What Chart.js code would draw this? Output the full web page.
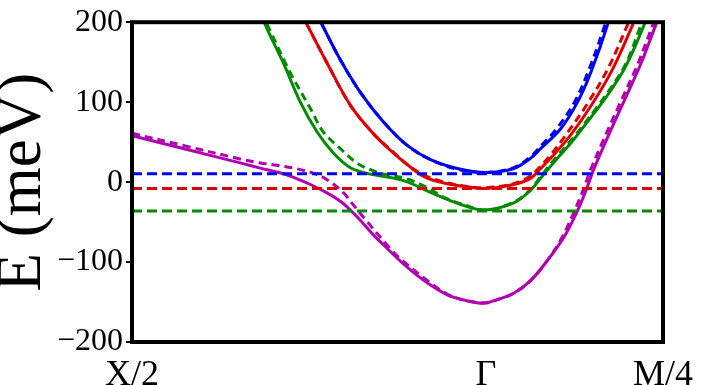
<!DOCTYPE html>
<html lang="en">
<head>
<meta charset="UTF-8">
<title>E (meV)</title>
<script src="https://cdn.jsdelivr.net/npm/chart.js"></script>
<style>
    body {
        margin: 0;
        padding: 0;
        background: #fff;
    }
    .wrap {
        width: 706px;
        height: 385px;
        position: relative;
    }
</style>
</head>
<body>
<div class="wrap">
    <canvas id="bands"></canvas>
</div>
<script>
    // k path: X/2 at -2, Gamma at 0, M/4 at 1
    var xTickValues = [-2, 0, 1];
    var xTickLabels = ['X/2', 'Γ', 'M/4'];
    var yTickValues = [-200, -100, 0, 100, 200];

    var blueSolidK = [-0.96, -0.926, -0.823, -0.709, -0.578, -0.445, -0.313, -0.162, 0, 0.157, 0.253, 0.309, 0.423, 0.517, 0.592, 0.687, 0.71];
    var blueSolidE = [213, 197, 153, 112, 75, 46, 28, 17, 12, 17, 30, 42, 67, 100, 137, 197, 220];
    var blueDashK = [-0.96, -0.926, -0.823, -0.709, -0.578, -0.445, -0.313, -0.162, 0, 0.157, 0.253, 0.309, 0.40, 0.50, 0.575, 0.672, 0.695];
    var blueDashE = [213, 197, 153, 112, 75, 46, 28, 16, 12, 18, 32, 45, 67, 100, 137, 197, 220];

    var redSolidK = [-1.05, -1.011, -0.898, -0.766, -0.634, -0.521, -0.445, -0.40, -0.332, -0.219, -0.087, 0, 0.157, 0.253, 0.309, 0.366, 0.479, 0.598, 0.717, 0.829, 0.853];
    var redSolidE = [214, 197, 149, 96, 60, 36, 22, 14, 5, -2, -6.5, -8, -3, 5, 17, 30, 59, 97, 142, 197, 212];
    var redDashK = [-1.05, -1.011, -0.898, -0.766, -0.634, -0.521, -0.435, -0.332, -0.219, -0.087, 0, 0.157, 0.253, 0.309, 0.366, 0.451, 0.570, 0.689, 0.80, 0.825];
    var redDashE = [214, 197, 149, 96, 60, 37, 20, 7, -1, -6, -7, -2, 8, 20, 34, 59, 97, 142, 197, 212];

    var greenSolidK = [-1.27, -1.247, -1.145, -1.049, -0.955, -0.861, -0.766, -0.653, -0.521, -0.44, -0.332, -0.238, -0.143, -0.012, 0.157, 0.253, 0.309, 0.385, 0.498, 0.621, 0.70, 0.790, 0.894, 0.915];
    var greenSolidE = [215, 197, 149, 100, 63, 36, 18, 10, 5, 0, -11, -20, -28, -35, -26, -10, 5, 25, 54, 89, 113, 145, 197, 212];
    var greenDashK = [-1.27, -1.236, -1.106, -0.992, -0.920, -0.823, -0.73, -0.653, -0.558, -0.445, -0.332, -0.238, -0.143, 0, 0.157, 0.253, 0.309, 0.385, 0.498, 0.621, 0.70, 0.79, 0.876, 0.90];
    var greenDashE = [213, 197, 137, 92, 63, 42, 24, 15.5, 9, 4, -7, -19, -27, -35, -25, -9, 7, 28, 57, 92, 116, 148, 197, 212];

    var magSolidK = [-2, -1.694, -1.389, -1.275, -1.145, -1.087, -0.992, -0.898, -0.823, -0.766, -0.709, -0.636, -0.558, -0.483, -0.410, -0.332, -0.219, -0.115, -0.013, 0.064, 0.157, 0.253, 0.347, 0.44, 0.517, 0.564, 0.611, 0.687, 0.781, 0.875, 0.960, 0.99];
    var magSolidE = [58, 41, 24, 17.5, 10.5, 6, -3, -13.5, -24, -35, -48, -66, -83, -99, -113, -126, -141, -148, -151.5, -147, -139, -123, -98, -69, -36, -11, 17, 56, 102, 148, 197, 213];
    var magDashK = [-2, -1.694, -1.389, -1.275, -1.181, -1.087, -0.973, -0.898, -0.804, -0.766, -0.692, -0.540, -0.483, -0.332, -0.219, -0.115, 0, 0.064, 0.157, 0.253, 0.347, 0.43, 0.50, 0.547, 0.594, 0.670, 0.764, 0.858, 0.943, 0.972];
    var magDashE = [61, 45, 29, 24, 21, 17.5, 11, 3, -13.5, -24, -44, -83.5, -96, -123, -140, -148, -151, -147, -139, -123, -98, -69, -36, -11, 17, 56, 102, 148, 197, 213];

    // chemical potentials (flat dashed lines)
    var levelK = [-2, 1];
    var blueLevel = [10.5, 10.5];
    var redLevel = [-8, -8];
    var greenLevel = [-36, -36];

    var BLUE = '#0000f0', RED = '#dd0000', GREEN = '#008a00', MAGENTA = '#b000b0';

    function pts(k, e) {
        return k.map(function (x, i) { return {x: x, y: e[i]}; });
    }

    function band(k, e, color, dashed) {
        return {
            data: pts(k, e),
            borderColor: color,
            borderWidth: 3,
            borderDash: dashed ? [8, 5] : [],
            pointRadius: 0,
            tension: 0.35,
            clip: 0
        };
    }

    function level(e, color) {
        return {
            data: pts(levelK, e),
            borderColor: color,
            borderWidth: 3,
            borderDash: [10, 5],
            pointRadius: 0,
            clip: 0
        };
    }

    var frame = {
        id: 'frame',
        afterDatasetsDraw: function (chart) {
            var ctx = chart.ctx, a = chart.chartArea;
            ctx.save();
            ctx.lineWidth = 4;
            ctx.strokeStyle = '#000';
            ctx.strokeRect(a.left, a.top, a.right - a.left, a.bottom - a.top);
            ctx.restore();
        }
    };

    var serif = 'Liberation Serif';

    new Chart(document.getElementById('bands').getContext('2d'), {
        type: 'line',
        data: {
            datasets: [
                level(blueLevel, BLUE),
                level(redLevel, RED),
                level(greenLevel, GREEN),
                band(blueDashK, blueDashE, BLUE, true),
                band(blueSolidK, blueSolidE, BLUE, false),
                band(redDashK, redDashE, RED, true),
                band(redSolidK, redSolidE, RED, false),
                band(greenDashK, greenDashE, GREEN, true),
                band(greenSolidK, greenSolidE, GREEN, false),
                band(magDashK, magDashE, MAGENTA, true),
                band(magSolidK, magSolidE, MAGENTA, false)
            ]
        },
        options: {
            responsive: true,
            maintainAspectRatio: false,
            animation: false,
            layout: {padding: {left: 0, top: 19, right: 43, bottom: 0}},
            plugins: {legend: {display: false}, tooltip: {enabled: false}},
            scales: {
                x: {
                    type: 'linear',
                    min: -2,
                    max: 1,
                    grid: {display: false},
                    border: {display: false},
                    afterBuildTicks: function (s) {
                        s.ticks = xTickValues.map(function (v) { return {value: v}; });
                    },
                    afterFit: function (s) { s.height = 43; },
                    ticks: {
                        autoSkip: false,
                        maxRotation: 0,
                        padding: 4,
                        color: '#000',
                        font: {family: serif, size: 36},
                        callback: function (v) { return xTickLabels[xTickValues.indexOf(v)]; }
                    }
                },
                y: {
                    min: -200,
                    max: 200,
                    afterBuildTicks: function (s) {
                        s.ticks = yTickValues.map(function (v) { return {value: v}; });
                    },
                    afterFit: function (s) { s.width = 132; },
                    grid: {drawOnChartArea: false, drawTicks: true, tickLength: 6, color: '#000', lineWidth: 2},
                    border: {display: false},
                    ticks: {
                        padding: 3,
                        color: '#000',
                        font: {family: serif, size: 32},
                        callback: function (v) { return String(v).replace('-', '\u2212'); }
                    },
                    title: {
                        display: true,
                        text: 'E (meV)',
                        color: '#000',
                        padding: {top: -8, bottom: 0},
                        font: {family: serif, size: 63, lineHeight: 1}
                    }
                }
            }
        },
        plugins: [frame]
    });
</script>
</body>
</html>
